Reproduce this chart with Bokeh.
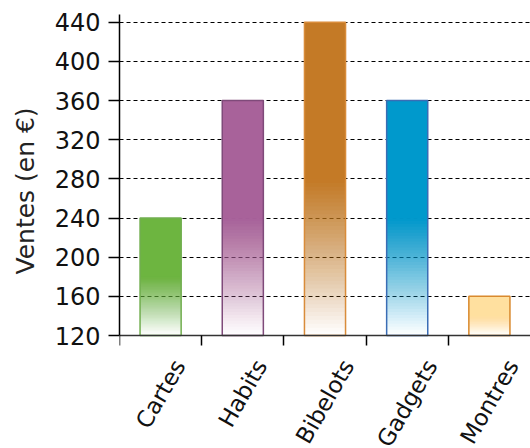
import numpy as np
from bokeh.plotting import figure
from bokeh.models import Range1d, FixedTicker, ColumnDataSource, Label, Title
from bokeh.embed import file_html
from bokeh.resources import INLINE

# ---- data ----
categories = ["Cartes", "Habits", "Bibelots", "Gadgets", "Montres"]
ventes = [240, 360, 440, 360, 160]
fill_colors = ["#6DB540", "#A8629A", "#C47A26", "#0099CC", "#FFE09F"]
line_colors = ["#72AE50", "#7F4A7A", "#D98C3A", "#3A6DB5", "#D9892E"]
y_ticks = [120, 160, 200, 240, 280, 320, 360, 400, 440]
y_label = "Ventes (en €)"

base = 120
y_top = 448
# frame spans to bottom of canvas; axis value 120 sits 113px above it
px_per_unit = 321.0 / (y_top - base)
y_start = base - 113.0 / px_per_unit

p = figure(width=530, height=448, output_backend="svg", toolbar_location=None,
           x_range=Range1d(0, len(categories)), y_range=Range1d(y_start, y_top),
           min_border_left=119, min_border_right=0, min_border_top=14,
           min_border_bottom=0)
p.outline_line_color = None
p.background_fill_color = "white"
p.border_fill_color = "white"

# grid
p.xgrid.grid_line_color = None
p.ygrid.ticker = FixedTicker(ticks=y_ticks[1:])
p.ygrid.grid_line_color = "black"
p.ygrid.grid_line_dash = "4 3"
p.ygrid.grid_line_width = 1.2

# bars: gradient bottom half built from stacked semi-transparent rects
N = 40
xc = np.arange(len(categories)) + 0.5
half_w = 0.25
for i, (v, fc, lc) in enumerate(zip(ventes, fill_colors, line_colors)):
    mid = base + (v - base) / 2.0
    bottoms = [base + (mid - base) * k / N for k in range(N)] + [mid]
    targets = [(k + 0.5) / N for k in range(N)] + [1.0]
    alphas = []
    prev = 0.0
    for t in targets:
        a = 1.0 if t >= 1.0 else 1.0 - (1.0 - t) / (1.0 - prev)
        alphas.append(a)
        prev = t
    n = len(bottoms)
    src = ColumnDataSource(dict(left=[xc[i] - half_w] * n, right=[xc[i] + half_w] * n,
                                bottom=bottoms, top=[v] * n, alpha=alphas))
    p.quad(left="left", right="right", bottom="bottom", top="top", source=src,
           fill_color=fc, fill_alpha="alpha", line_color=None)
    p.quad(left=[xc[i] - half_w], right=[xc[i] + half_w], bottom=[base], top=[v],
           fill_color=None, line_color=lc, line_width=1.5)

# y axis
yax = p.yaxis[0]
yax.ticker = FixedTicker(ticks=y_ticks)
yax.bounds = (base, y_top)
yax.major_label_text_font = "DejaVu Sans"
yax.major_label_text_font_size = "24px"
yax.major_label_text_color = "#111111"
yax.major_label_standoff = 8
yax.major_tick_out = 11
yax.major_tick_in = 0
yax.minor_tick_line_color = None
yax.axis_line_width = 1.5
yax.major_tick_line_width = 1.5
yax.axis_line_color = "black"

# y axis title, placed as a side title so it can sit beside the 120-440 span
p.add_layout(Title(text=y_label, align="left", offset=174, vertical_align="top",
                   standoff=20, text_font="DejaVu Sans", text_font_size="25px",
                   text_font_style="normal", text_color="#222222"), "left")

# x axis at value 120: ticks at category boundaries
xax = p.xaxis[0]
xax.fixed_location = base
xax.ticker = FixedTicker(ticks=list(range(len(categories))))
xax.major_label_text_color = None
xax.major_label_text_font_size = "1px"
xax.major_tick_out = 10
xax.major_tick_in = 0
xax.major_tick_line_width = 1.5
xax.minor_tick_line_color = None
xax.axis_line_width = 1.3
xax.axis_line_color = "#333333"

# rotated category labels (bbox centred on category, top aligned)
dejavu_w = {"C": .698, "a": .613, "r": .411, "t": .392, "e": .615, "s": .521,
            "H": .752, "b": .635, "i": .278, "B": .686, "l": .278, "o": .612,
            "G": .775, "d": .635, "g": .635, "M": .863, "n": .634}
fs = 23
for i, name in enumerate(categories):
    L = fs * sum(dejavu_w.get(c, 0.6) for c in name)
    p.add_layout(Label(x=xc[i], y=base, text=name, x_offset=0.25 * L, y_offset=-26,
                       angle=60, angle_units="deg", text_align="right",
                       text_baseline="middle", text_font="DejaVu Sans",
                       text_font_size=f"{fs}px", text_color="#111111"))

open("out.html", "w").write(file_html(p, INLINE))
